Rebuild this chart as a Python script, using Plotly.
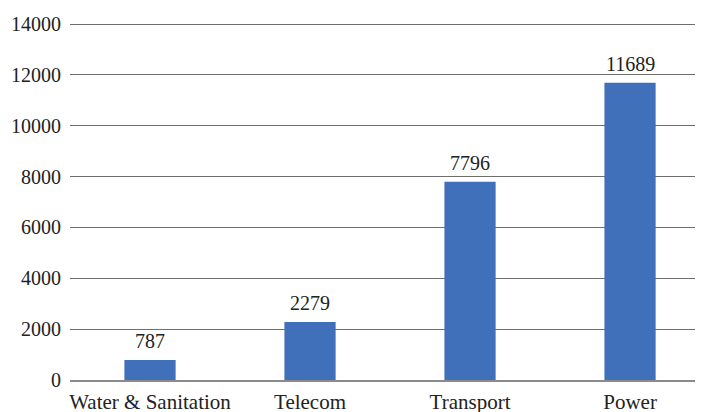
import plotly.graph_objects as go

categories = ["Water & Sanitation", "Telecom", "Transport", "Power"]
values = [787, 2279, 7796, 11689]
y_ticks = [0, 2000, 4000, 6000, 8000, 10000, 12000, 14000]

font = "Liberation Serif"

fig = go.Figure(go.Bar(
    x=categories, y=values,
    marker=dict(color="#3F70B9", line=dict(width=0)),
    width=0.32,
    hoverinfo="x+y",
))

for c, v in zip(categories, values):
    fig.add_annotation(
        x=c, y=v, text=str(v), showarrow=False,
        xanchor="center", yanchor="bottom", yshift=6,
        font=dict(family=font, size=20, color="#222"),
    )

fig.update_layout(
    width=695, height=404,
    margin=dict(l=62, r=0, t=14, b=32, autoexpand=False),
    paper_bgcolor="white", plot_bgcolor="white",
    font=dict(family=font, size=20, color="#222"),
    showlegend=False,
)
fig.update_xaxes(
    range=[-0.5, 3.456], automargin=False,
    showgrid=False, showline=True, linecolor="#8a8a8a", linewidth=1.5,
    ticks="", ticklabelstandoff=2,
    tickfont=dict(family=font, size=21, color="#222"),
)
fig.update_yaxes(
    range=[0, 14079], tickvals=y_ticks, ticktext=[str(v) for v in y_ticks],
    automargin=False,
    showgrid=True, gridcolor="#6f6f6f", gridwidth=1.2,
    zeroline=False, showline=False, ticks="",
    ticklabelstandoff=8,
    tickfont=dict(family=font, size=20, color="#222"),
)

fig.write_html("out.html")
